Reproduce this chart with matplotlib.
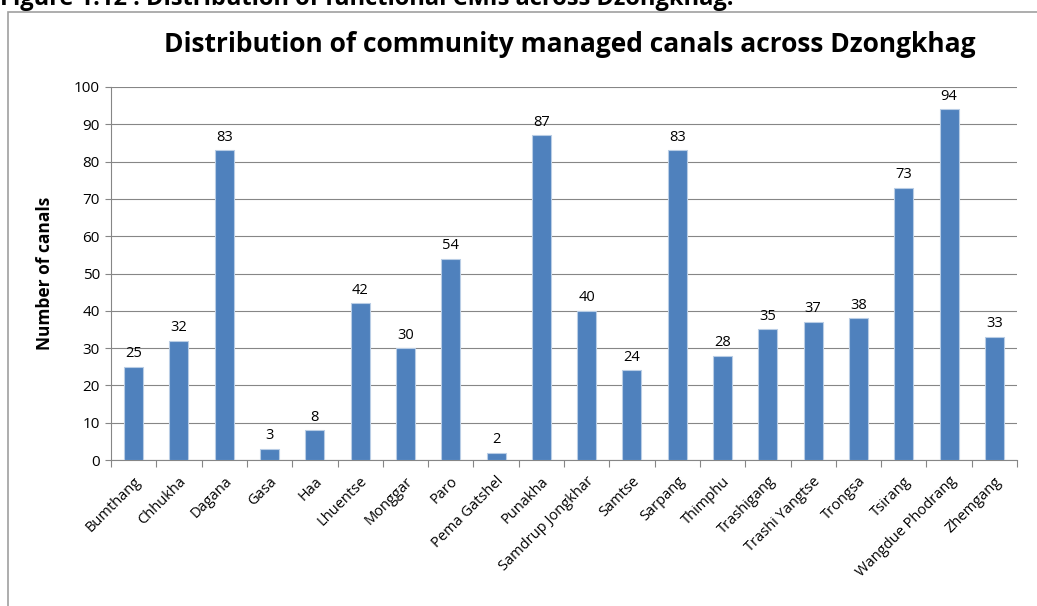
import numpy as np
import matplotlib.pyplot as plt
from matplotlib.patches import Rectangle

# Данные
districts = ['Bumthang', 'Chhukha', 'Dagana', 'Gasa', 'Haa', 'Lhuentse', 'Monggar',
             'Paro', 'Pema Gatshel', 'Punakha', 'Samdrup Jongkhar', 'Samtse', 'Sarpang',
             'Thimphu', 'Trashigang', 'Trashi Yangtse', 'Trongsa', 'Tsirang',
             'Wangdue Phodrang', 'Zhemgang']
canals = [25, 32, 83, 3, 8, 42, 30, 54, 2, 87, 40, 24, 83, 28, 35, 37, 38, 73, 94, 33]

plt.rcParams['font.family'] = ['Open Sans', 'DejaVu Sans']

fig = plt.figure(figsize=(10.37, 6.06), dpi=100)
W, H = 1037, 606
ax = fig.add_axes([111 / W, 1 - 460 / H, (1017 - 111) / W, (460 - 87) / H])

# Рамка и подпись рисунка
fig.patches.append(Rectangle((8 / W, -0.1), 1.2, 1 - 12 / H + 0.1, transform=fig.transFigure,
                             fill=False, edgecolor='#a0a0a0', linewidth=1.2))
fig.text(0.0, 1 - 5 / H, 'Figure 1.12 : Distribution of functional CMIs across Dzongkhag.',
         fontsize=17, fontweight='bold', va='baseline', ha='left')

x = np.arange(len(districts))
ax.bar(x, canals, width=0.42, color='#4f81bd', edgecolor='#b9cde5', linewidth=0.8, zorder=3)
for xi, v in zip(x, canals):
    ax.text(xi, v + 1.5, str(v), ha='center', va='bottom', fontsize=10.5)

ax.set_xlim(-0.5, len(districts) - 0.5)
ax.set_ylim(0, 100)
ax.set_yticks(range(0, 101, 10))
ax.tick_params(axis='y', labelsize=11, length=4, color='#868686', pad=4)
ax.grid(axis='y', color='#868686', linewidth=0.8, zorder=0)

ax.set_xticks(np.arange(-0.5, len(districts), 1), minor=False)
ax.set_xticklabels([])
ax.set_xticks(x, minor=True)
ax.set_xticklabels(districts, minor=True, rotation=45, ha='right', rotation_mode='anchor', fontsize=10.5)
ax.tick_params(axis='x', which='major', length=5, color='#868686')
ax.tick_params(axis='x', which='minor', length=0, pad=10)

for s in ['top', 'right']:
    ax.spines[s].set_visible(False)
for s in ['left', 'bottom']:
    ax.spines[s].set_color('#868686')

ax.set_ylabel('Number of canals', fontsize=12.5, fontweight='bold', labelpad=14)
fig.text(570 / W, 1 - 45 / H, 'Distribution of community managed canals across Dzongkhag',
         fontsize=19, fontweight='bold', ha='center', va='center')

fig.savefig('out.png', dpi=100)
